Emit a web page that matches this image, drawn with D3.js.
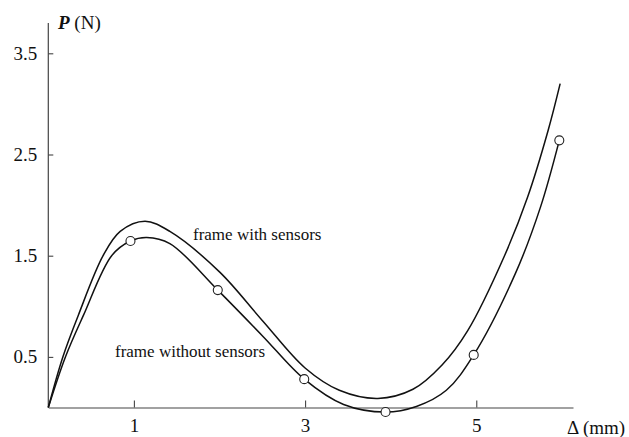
<!DOCTYPE html>
<html>
<head>
<meta charset="utf-8">
<script src="https://cdn.jsdelivr.net/npm/d3@7"></script>
<style>
html,body{margin:0;padding:0;background:#fff;}
svg{display:block;}
text{font-family:"Liberation Serif","Times New Roman",serif;fill:#111;}
</style>
</head>
<body>
<svg id="chart" width="629" height="437"></svg>
<script>
// Data (Δ in mm, P in N)
const withSensorsX = [0, 0.17, 0.35, 0.64, 0.84, 1.13, 1.42, 2.0, 2.5, 3.0, 3.4, 3.85, 4.26, 4.6, 4.9, 5.33, 5.6, 5.84, 5.98];
const withSensorsP = [0, 0.5, 0.91, 1.5, 1.74, 1.84, 1.74, 1.34, 0.86, 0.39, 0.17, 0.09, 0.18, 0.42, 0.76, 1.5, 2.08, 2.74, 3.20];
const withoutSensorsX = [0, 0.2, 0.41, 0.74, 0.96, 1.15, 1.42, 1.98, 2.5, 2.99, 3.45, 3.94, 4.3, 4.65, 4.97, 5.46, 5.75, 5.97];
const withoutSensorsP = [0, 0.5, 0.91, 1.5, 1.645, 1.68, 1.62, 1.16, 0.71, 0.28, 0.03, -0.045, 0.01, 0.17, 0.52, 1.33, 1.98, 2.64];
const measuredX = [0.96, 1.98, 2.99, 3.94, 4.97, 5.97];
const measuredP = [1.645, 1.16, 0.28, -0.045, 0.52, 2.64];
const xTicks = [1, 3, 5];
const yTicks = [0.5, 1.5, 2.5, 3.5];
const xLabel = "Δ (mm)";
const curveLabels = ["frame with sensors", "frame without sensors"];

const svg = d3.select("#chart");
const x = d3.scaleLinear().domain([0, 6.13]).range([48.3, 573]);
const y = d3.scaleLinear().domain([0, 3.5]).range([407.5, 53.3]);

const axisColor = "#444";

// X axis
const xAxis = svg.append("g").attr("transform", `translate(0,${y(0)})`)
  .call(d3.axisBottom(x).tickValues(xTicks).tickFormat(d3.format("d")).tickSizeInner(-7).tickSizeOuter(0).tickPadding(11));
xAxis.select(".domain").attr("stroke", axisColor).attr("stroke-width", 1.2);
xAxis.selectAll(".tick line").attr("stroke", axisColor).attr("stroke-width", 1.1);
xAxis.selectAll(".tick text").attr("font-size", 19).attr("font-family", "Liberation Serif").attr("fill", "#111");

// Y axis
const yAxis = svg.append("g").attr("transform", `translate(${x(0)},0)`)
  .call(d3.axisLeft(y).tickValues(yTicks).tickFormat(d3.format(".1f")).tickSizeInner(-5).tickSizeOuter(0).tickPadding(11));
yAxis.select(".domain").attr("d", `M0,${y(0)}V23`).attr("stroke", axisColor).attr("stroke-width", 1.2);
yAxis.selectAll(".tick line").attr("stroke", axisColor).attr("stroke-width", 1.1);
yAxis.selectAll(".tick text").attr("font-size", 19).attr("font-family", "Liberation Serif").attr("fill", "#111");

// Axis titles
const pt = svg.append("text").attr("x", 58).attr("y", 29).attr("font-size", 19);
pt.append("tspan").attr("font-style", "italic").attr("font-weight", "bold").text("P");
pt.append("tspan").text(" (N)");
svg.append("text").attr("x", 567).attr("y", 434).attr("font-size", 19).text(xLabel);

// Curves
const line = d3.line().x(d => x(d[0])).y(d => y(d[1])).curve(d3.curveCatmullRom.alpha(0.5));
const up = withSensorsX.map((v, i) => [v, withSensorsP[i]]);
const lo = withoutSensorsX.map((v, i) => [v, withoutSensorsP[i]]);
svg.append("path").datum(up).attr("d", line).attr("fill", "none").attr("stroke", "#111").attr("stroke-width", 1.5);
svg.append("path").datum(lo).attr("d", line).attr("fill", "none").attr("stroke", "#111").attr("stroke-width", 1.5);

// Points
svg.selectAll("circle.pt").data(measuredX.map((v, i) => [v, measuredP[i]])).enter()
  .append("circle").attr("class", "pt")
  .attr("cx", d => x(d[0])).attr("cy", d => y(d[1])).attr("r", 4.5)
  .attr("fill", "#fff").attr("stroke", "#222").attr("stroke-width", 1.1);

// Curve labels
svg.append("text").attr("x", 193).attr("y", 240).attr("font-size", 17).text(curveLabels[0]);
svg.append("text").attr("x", 115).attr("y", 357).attr("font-size", 17).text(curveLabels[1]);
</script>
</body>
</html>
